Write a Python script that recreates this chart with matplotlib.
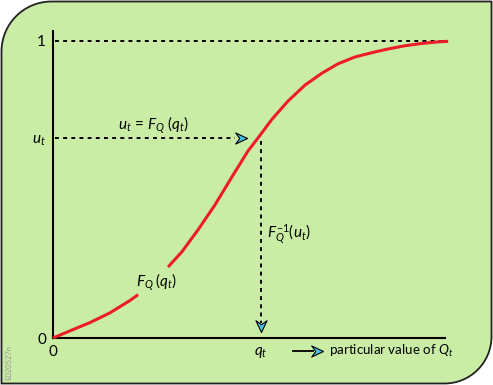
import matplotlib
matplotlib.use('Agg')
import matplotlib.pyplot as plt
from matplotlib.path import Path
from matplotlib.patches import PathPatch
from matplotlib.markers import MarkerStyle
from matplotlib.transforms import Affine2D

plt.rcParams['font.family'] = ['Lato', 'DejaVu Sans']
plt.rcParams['mathtext.fontset'] = 'custom'
plt.rcParams['mathtext.rm'] = 'Lato'
plt.rcParams['mathtext.it'] = 'Lato:italic'
plt.rcParams['mathtext.bf'] = 'Lato:bold'

# ---- data ----
q_lower = [0.0, 0.043, 0.094, 0.145, 0.195, 0.216]
F_lower = [0.0, 0.024, 0.052, 0.085, 0.126, 0.146]
q_upper = [0.292, 0.327, 0.368, 0.411, 0.454, 0.495, 0.520, 0.556, 0.596,
           0.640, 0.683, 0.723, 0.766, 0.810, 0.850, 0.893, 0.937, 0.977, 1.003]
F_upper = [0.239, 0.290, 0.364, 0.448, 0.542, 0.630, 0.673, 0.737, 0.797,
           0.852, 0.892, 0.923, 0.946, 0.961, 0.973, 0.984, 0.992, 0.997, 0.999]
q_t = 0.527
u_t = 0.673
y_ticks = [0, u_t, 1]
y_tick_labels = ['0', '$u_t$', '1']
x_ticks = [0, q_t]
x_tick_labels = ['0', '$q_t$']

W, H = 493, 385
fig = plt.figure(figsize=(W / 100, H / 100), dpi=100, facecolor='white')

def fp(px, py):
    return (px / W, 1 - py / H)

# ---- rounded background panel ----
green = '#c9eda4'
L, R, T, B = 1.5, 491.5, 1.5, 383.5
r1, r2 = 50, 47
k = 0.5523
verts = [
    (L + r1, T), (R, T), (R, B - r2),
    (R, B - r2 + k * r2), (R - r2 + k * r2, B), (R - r2, B),
    (L, B), (L, T + r1),
    (L, T + r1 - k * r1), (L + r1 - k * r1, T), (L + r1, T),
    (L + r1, T),
]
codes = [Path.MOVETO, Path.LINETO, Path.LINETO,
         Path.CURVE4, Path.CURVE4, Path.CURVE4,
         Path.LINETO, Path.LINETO,
         Path.CURVE4, Path.CURVE4, Path.CURVE4,
         Path.CLOSEPOLY]
verts_f = [fp(x, y) for x, y in verts]
panel = PathPatch(Path(verts_f, codes), facecolor=green, edgecolor='#222222',
                  lw=1.3, transform=fig.transFigure, zorder=-5)
fig.patches.append(panel)

# ---- axes ----
ax_left, ax_right = 53, 445
ax_bottom, ax_top = 338, 31
ax = fig.add_axes([ax_left / W, 1 - ax_bottom / H,
                   (ax_right - ax_left) / W, (ax_bottom - ax_top) / H])
ax.set_zorder(1)
ax.set_facecolor('none')
ax.set_xlim(0, (ax_right - ax_left) / 394)
ax.set_ylim(0, (ax_bottom - ax_top) / 297)
for s in ['top', 'right']:
    ax.spines[s].set_visible(False)
for s in ['left', 'bottom']:
    ax.spines[s].set_linewidth(1.5)
    ax.spines[s].set_color('black')
ax.set_yticks(y_ticks)
ax.set_yticklabels(y_tick_labels, fontsize=11)
ax.set_xticks(x_ticks)
ax.set_xticklabels(x_tick_labels, fontsize=11)
ax.tick_params(length=0, pad=5)

red = '#ee1c2a'
ax.plot(q_lower, F_lower, color=red, lw=2.2, solid_capstyle='butt',
        solid_joinstyle='round', zorder=3, clip_on=False)
ax.plot(q_upper, F_upper, color=red, lw=2.2, solid_capstyle='butt',
        solid_joinstyle='round', zorder=3, clip_on=False)

dash = dict(color='black', lw=1.4, linestyle=(0, (2.0, 2.2)), zorder=2, clip_on=False)
ax.plot([0.005, 1.0], [1, 1], **dash)

# dart marker
dart = Path([(0, 0), (-1.6, 0.75), (-1.05, 0), (-1.6, -0.75), (0, 0)],
            [Path.MOVETO, Path.LINETO, Path.LINETO, Path.LINETO, Path.CLOSEPOLY])
dart_down = dart.transformed(Affine2D().rotate_deg(-90))
cyan = '#48c4e8'

h_tip = q_t - 0.035
ax.plot([0.005, h_tip - 0.03], [u_t, u_t], **dash)
ax.plot([h_tip], [u_t], marker=MarkerStyle(dart), markersize=17, color=cyan,
        markeredgecolor='black', markeredgewidth=0.8, zorder=4, clip_on=False)

v_tip = 0.02
ax.plot([q_t, q_t], [u_t - 0.01, v_tip + 0.03], **dash)
ax.plot([q_t], [v_tip], marker=MarkerStyle(dart_down), markersize=17, color=cyan,
        markeredgecolor='black', markeredgewidth=0.8, zorder=4, clip_on=False)

# ---- texts ----
def ftext(px, py, s, **kw):
    fig.text(*fp(px, py), s, zorder=5, **kw)

ftext(118, 125, r'$u_t\,=\,F_Q\;(q_t)$', fontsize=11, ha='left', va='center')
ftext(267, 234, r'$F_Q^{-1}(u_t)$', fontsize=11, ha='left', va='center')
ftext(136, 282, r'$F_Q\;(q_t)$', fontsize=11, ha='left', va='center')

# bottom arrow and label
x0, y0 = fp(293, 351)
x1, y1 = fp(313, 351)
fig.lines.append(plt.Line2D([x0, x1], [y0, y1], transform=fig.transFigure,
                            color='black', lw=1.3, zorder=5))
fig.lines.append(plt.Line2D([fp(323, 351)[0]], [y0], transform=fig.transFigure,
                            marker=MarkerStyle(dart), markersize=17, color=cyan,
                            markeredgecolor='black', markeredgewidth=0.8, zorder=5))
ftext(329, 351, r'particular value of $Q_t$', fontsize=9.6, ha='left', va='center')

ftext(9, 362, 'E020527n', fontsize=5.5, color='#9a9a9a', rotation=90,
      ha='center', va='center')

fig.savefig('out.png', dpi=100, facecolor='white')
